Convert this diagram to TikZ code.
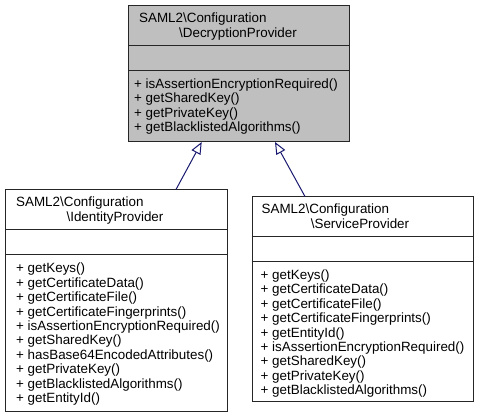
\documentclass[tikz,border=0pt]{standalone}
\usepackage{fontspec}
\setmainfont{Liberation Sans}
\usetikzlibrary{arrows.meta}
\definecolor{edgeblue}{HTML}{191970}
\definecolor{basegray}{HTML}{BFBFBF}
\tikzset{
  classbox/.style={draw=black!85, line width=1pt, anchor=north west, inner sep=0pt},
  member/.style={anchor=base west, inner sep=0pt, font=\fontsize{13.4}{14.4}\selectfont},
  classname/.style={anchor=base, inner sep=0pt, font=\fontsize{13.4}{14.4}\selectfont},
  inherit/.style={draw=edgeblue, line width=1pt, -{Triangle[open, length=12pt, width=10pt]}},
}
\begin{document}
\begin{tikzpicture}[x=1pt, y=-1pt]
        \useasboundingbox (0,0) rectangle (477,419);
        % base class
        \node[classbox, fill=basegray, minimum width=220.7pt, minimum height=136pt] (dp) at (128.3,5) {};
        \draw[black!85, line width=1pt] (128.3,45.5) -- (349,45.5) (128.3,70.5) -- (349,70.5);
        \node[member] (dp-t1) at (139,22.3) {SAML2\textbackslash Configuration};
        \node[classname] (dp-t2) at (238,37.3) {\textbackslash DecryptionProvider};
        \foreach \m [count=\i from 0] in {isAssertionEncryptionRequired(), getSharedKey(), getPrivateKey(), getBlacklistedAlgorithms()}
          \node[member] (dp-m\i) at (134,{88.5+\i*14.4}) {+ \m};
        % identity provider
        \node[classbox, fill=white, minimum width=222pt, minimum height=222pt] (ip) at (5,189.5) {};
        \draw[black!85, line width=1pt] (5,230) -- (227,230) (5,255) -- (227,255);
        \node[member] (ip-t1) at (16,206.8) {SAML2\textbackslash Configuration};
        \node[classname] (ip-t2) at (115,221.8) {\textbackslash IdentityProvider};
        \foreach \m [count=\i from 0] in {getKeys(), getCertificateData(), getCertificateFile(), getCertificateFingerprints(), isAssertionEncryptionRequired(), getSharedKey(), hasBase64EncodedAttributes(), getPrivateKey(), getBlacklistedAlgorithms(), getEntityId()}
          \node[member] (ip-m\i) at (16,{273+\i*14.4}) {+ \m};
        % service provider
        \node[classbox, fill=white, minimum width=221pt, minimum height=204.5pt] (sp) at (251.5,196.5) {};
        \draw[black!85, line width=1pt] (251.5,236.5) -- (472.5,236.5) (251.5,261.5) -- (472.5,261.5);
        \node[member] (sp-t1) at (261.5,213.8) {SAML2\textbackslash Configuration};
        \node[classname] (sp-t2) at (360,228.8) {\textbackslash ServiceProvider};
        \foreach \m [count=\i from 0] in {getKeys(), getCertificateData(), getCertificateFile(), getCertificateFingerprints(), getEntityId(), isAssertionEncryptionRequired(), getSharedKey(), getPrivateKey(), getBlacklistedAlgorithms()}
          \node[member] (sp-m\i) at (260.5,{279.5+\i*14.4}) {+ \m};
        % inheritance
        \draw[inherit] ([xshift=171pt]ip.north west) -- ([xshift=73.4pt]dp.south west);
        \draw[inherit] ([xshift=53.5pt]sp.north west) -- ([xshift=146.7pt]dp.south west);
\end{tikzpicture}
\end{document}
